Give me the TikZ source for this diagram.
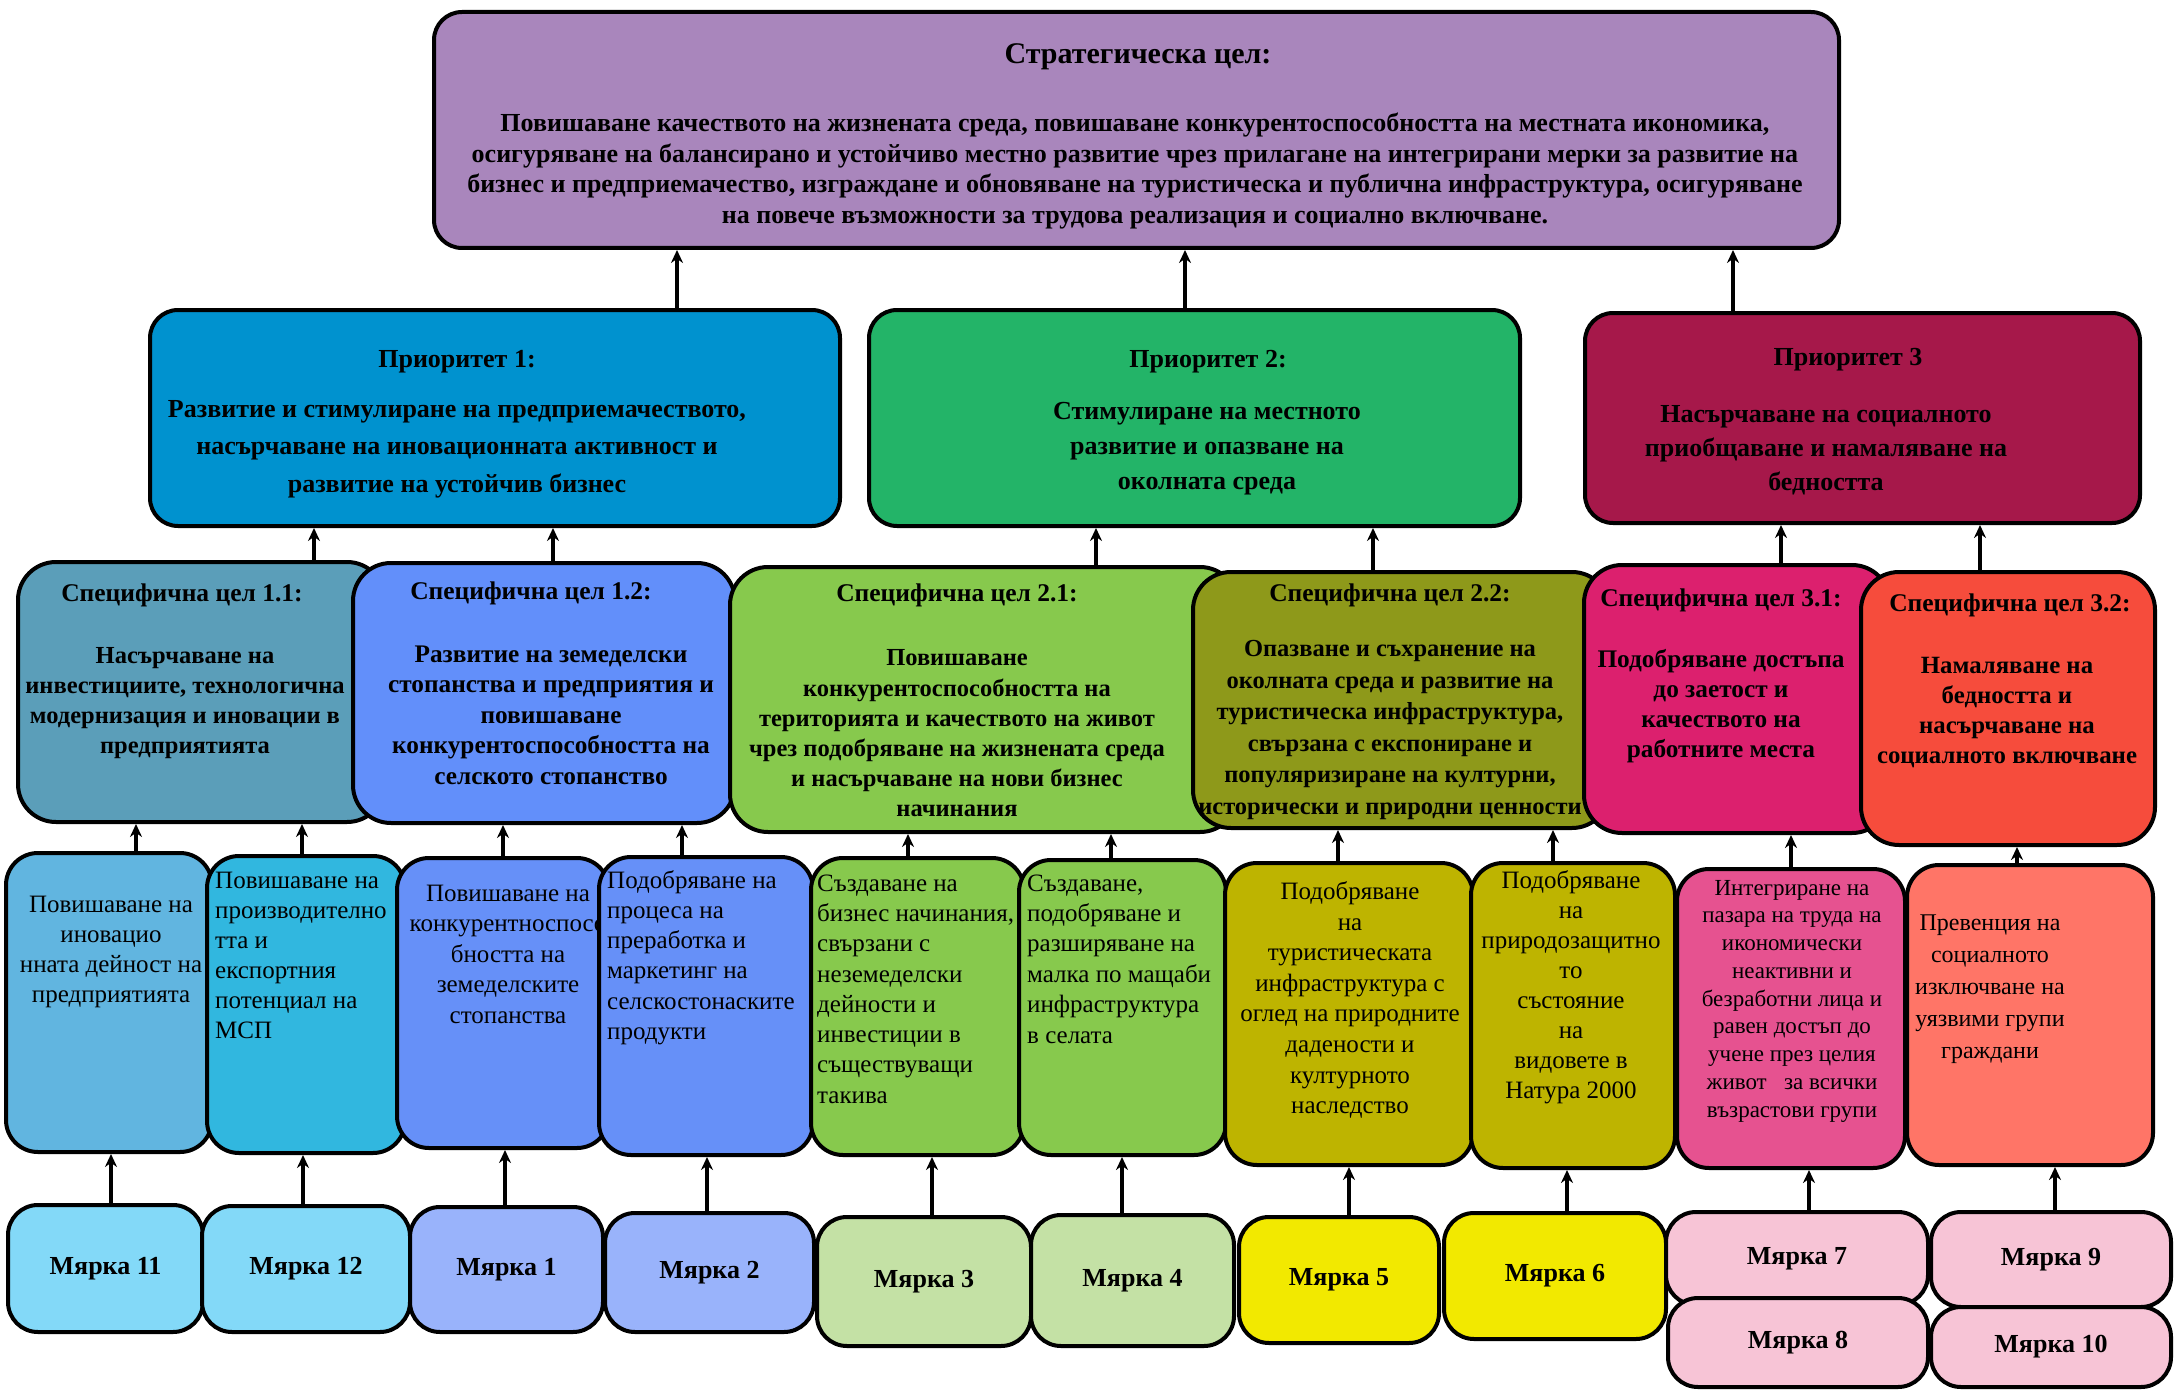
\documentclass[tikz,border=0pt]{standalone}
\usepackage{fontspec}
\setmainfont{Liberation Serif}
\usetikzlibrary{arrows.meta}
\definecolor{cTop}{RGB}{169,134,188}
\definecolor{cPa}{RGB}{0,146,207}
\definecolor{cPb}{RGB}{35,180,104}
\definecolor{cPc}{RGB}{166,24,74}
\definecolor{cSaa}{RGB}{91,158,185}
\definecolor{cSab}{RGB}{98,143,250}
\definecolor{cSba}{RGB}{135,201,77}
\definecolor{cSbb}{RGB}{142,153,26}
\definecolor{cSca}{RGB}{220,32,110}
\definecolor{cScb}{RGB}{246,76,60}
\definecolor{cAa}{RGB}{97,181,224}
\definecolor{cAb}{RGB}{49,183,223}
\definecolor{cAc}{RGB}{102,144,248}
\definecolor{cAd}{RGB}{135,201,77}
\definecolor{cAe}{RGB}{190,180,0}
\definecolor{cAf}{RGB}{230,82,144}
\definecolor{cAg}{RGB}{255,117,103}
\definecolor{cMa}{RGB}{131,217,248}
\definecolor{cMb}{RGB}{153,179,251}
\definecolor{cMc}{RGB}{196,225,165}
\definecolor{cMd}{RGB}{242,233,0}
\definecolor{cMe}{RGB}{247,196,214}
\newcommand\fB[2]{\fontsize{#1}{#2}\selectfont\bfseries}
\newcommand\fR[2]{\fontsize{#1}{#2}\selectfont}
% box: name, fill, radius, x1, y1, x2, y2, text
\newcommand\bx[8]{\node[box,fill=#2,rounded corners=#3pt,minimum width={(#6-#4)*1pt},minimum height={(#7-#5)*1pt}] (#1) at ({(#4+#6)/2},{(#5+#7)/2}) {#8};}
\newcommand\conn[3]{\draw[arr] ([xshift=#3pt]#1.north) -- ([xshift=#3pt]#1.north |- #2.south);}
\begin{document}
\begin{tikzpicture}[x=1pt,y=-1pt,
  box/.style={draw=black,line width=4pt,inner sep=0pt,font=\fB{26}{30}},
  txt/.style={inner sep=0pt,align=center,text=black},
  txl/.style={inner sep=0pt,align=left,anchor=west,text=black},
  arr/.style={line width=4.5pt,-{Stealth[length=13pt,width=12pt]}}]
\useasboundingbox (0,0) rectangle (2174,1391);
\fill[white] (0,0) rectangle (2174,1391);

% Strategic goal
\bx{top}{cTop}{28}{434}{12}{1839}{248}{}
\node[txt,font=\fB{30}{34}] (topT) at (1138,57) {Стратегическа цел:};
\node[txt,font=\fB{26}{30.5}] (topB) at (1135,171) {Повишаване качеството на жизнената среда, повишаване конкурентоспособността на местната икономика,\\ осигуряване на балансирано  и устойчиво местно развитие чрез прилагане на интегрирани мерки за развитие на\\ бизнес и предприемачество, изграждане и обновяване на туристическа и публична инфраструктура, осигуряване\\ на повече възможности за трудова реализация и социално включване.};

% Priorities
\bx{p1}{cPa}{28}{150}{310}{840}{526}{}
\node[txt,font=\fB{26}{30}] (p1T) at (457,362) {Приоритет 1:};
\node[txt,font=\fB{26}{37.5}] (p1B) at (457,449) {Развитие и стимулиране на предприемачеството,\\ насърчаване на иновационната активност и\\ развитие на устойчив бизнес};
\bx{p2}{cPb}{28}{869}{310}{1520}{526}{}
\node[txt,font=\fB{26}{30}] (p2T) at (1208,362) {Приоритет 2:};
\node[txt,font=\fB{26}{35}] (p2B) at (1207,449) {Стимулиране на местното\\ развитие и опазване на\\ околната среда};
\bx{p3}{cPc}{28}{1585}{313}{2140}{523}{}
\node[txt,font=\fB{26}{30}] (p3T) at (1848,360) {Приоритет 3};
\node[txt,font=\fB{26}{34}] (p3B) at (1826,450) {Насърчаване на социалното\\ приобщаване  и намаляване на\\ бедността};

% Specific goals
\bx{s11}{cSaa}{38}{18}{562}{385}{822}{}
\node[txt,font=\fB{25.5}{30}] (s11T) at (182,595) {Специфична цел 1.1:};
\node[txt,font=\fB{24.5}{30}] (s11B) at (185,703) {Насърчаване на\\ инвестициите, технологична\\ модернизация и иновации в\\ предприятията};
\bx{s12}{cSab}{38}{353}{563}{735}{823}{}
\node[txt,font=\fB{25.5}{30}] (s12T) at (531,593) {Специфична цел 1.2:};
\node[txt,font=\fB{25.3}{30.5}] (s12B) at (551,715) {Развитие на земеделски\\ стопанства и предприятия и\\ повишаване\\ конкурентоспособността на\\ селското стопанство};
\bx{s21}{cSba}{38}{730}{567}{1238}{832}{}
\node[txt,font=\fB{25.5}{30}] (s21T) at (957,595) {Специфична цел 2.1:};
\node[txt,font=\fB{24.5}{30.2}] (s21B) at (957,733.5) {Повишаване\\ конкурентоспособността  на\\ територията и качеството на живот\\ чрез подобряване на жизнената среда\\ и насърчаване на нови бизнес\\ начинания};
\bx{s22}{cSbb}{38}{1193}{572}{1610}{828}{}
\node[txt,font=\fB{25.5}{30}] (s22T) at (1390,595) {Специфична цел 2.2:};
\node[txt,font=\fB{24.5}{31.6}] (s22B) at (1390,730) {Опазване и съхранение на\\ околната среда и развитие на\\ туристическа инфраструктура,\\ свързана с експониране и\\ популяризиране на културни,\\ исторически и природни ценности};
\bx{s31}{cSca}{38}{1584}{565}{1890}{833}{}
\node[txt,font=\fB{25.5}{30}] (s31T) at (1721,600) {Специфична цел 3.1:};
\node[txt,font=\fB{25.3}{30}] (s31B) at (1721,706) {Подобряване достъпа\\ до заетост и\\ качеството на\\ работните места};
\bx{s32}{cScb}{38}{1861}{572}{2155}{845}{}
\node[txt,font=\fB{25.5}{30}] (s32T) at (2010,605) {Специфична цел 3.2:};
\node[txt,font=\fB{24.8}{30}] (s32B) at (2007,713) {Намаляване на\\ бедността и\\ насърчаване на\\ социалното включване};

% Activities
\bx{a1}{cAa}{32}{6}{853}{212}{1152}{}
\node[txt,font=\fR{25}{30}] (a1T) at (111,952) {Повишаване на\\ иновацио\\ нната дейност на\\ предприятията};
\bx{a2}{cAb}{32}{207}{856}{405}{1153}{}
\node[txl,font=\fR{25}{30}] (a2T) at (215,955) {Повишаване на\\ производително\\ тта и\\ експортния\\ потенциал на\\ МСП};
\bx{a3}{cAc}{32}{397}{858}{609}{1148}{}
\node[txt,font=\fR{25}{30.5}] (a3T) at (508,954) {Повишаване на\\ конкурентноспосо\\ бността на\\ земеделските\\ стопанства};
\bx{a4}{cAc}{32}{599}{857}{813}{1155}{}
\node[txl,font=\fR{25}{30.2}] (a4T) at (607,957.5) {Подобряване на\\ процеса на\\ преработка и\\ маркетинг на\\ селскостонаските\\ продукти};
\bx{a5}{cAd}{32}{811}{858}{1024}{1155}{}
\node[txl,font=\fR{25}{30.3}] (a5T) at (817,989) {Създаване на\\ бизнес начинания,\\ свързани с\\ неземеделски\\ дейности и\\ инвестиции в\\ съществуващи\\ такива};
\bx{a6}{cAd}{32}{1019}{860}{1226}{1155}{}
\node[txl,font=\fR{25}{30.4}] (a6T) at (1027,959) {Създаване,\\ подобряване и\\ разширяване на\\ малка по мащаби\\ инфраструктура\\ в селата};
\bx{a7}{cAe}{32}{1225}{863}{1473}{1165}{}
\node[txt,font=\fR{25}{30.6}] (a7T) at (1350,1000) {Подобряване\\ на\\ туристическата\\ инфраструктура  с\\ оглед  на природните\\ дадености и\\ културното\\ наследство};
\bx{a8}{cAe}{32}{1471}{863}{1675}{1168}{}
\node[txt,font=\fR{25}{30}] (a8T) at (1571,987) {Подобряване\\ на\\ природозащитно\\ то\\ състояние\\ на\\ видовете в\\ Натура 2000};
\bx{a9}{cAf}{32}{1677}{869}{1905}{1168}{}
\node[txt,font=\fR{23}{27.75}] (a9T) at (1792,1001) {Интегриране на\\ пазара на  труда на\\ икономически\\ неактивни  и\\ безработни лица  и\\ равен достъп до\\ учене през целия\\ живот \ \ за всички\\ възрастови групи};
\bx{a10}{cAg}{32}{1907}{865}{2153}{1165}{}
\node[txt,font=\fR{24}{32}] (a10T) at (1990,989) {Превенция на\\ социалното\\ изключване на\\ уязвими групи\\ граждани};

% Measures
\bx{m11}{cMa}{30}{8}{1205}{203}{1332}{Мярка 11}
\bx{m12}{cMa}{30}{202}{1206}{410}{1332}{Мярка 12}
\bx{m1}{cMb}{30}{410}{1207}{603}{1332}{Мярка 1}
\bx{m2}{cMb}{30}{605}{1213}{814}{1332}{Мярка 2}
\bx{m3}{cMc}{30}{817}{1217}{1031}{1346}{Мярка 3}
\bx{m4}{cMc}{30}{1031}{1215}{1234}{1346}{Мярка 4}
\bx{m5}{cMd}{30}{1239}{1217}{1439}{1343}{Мярка 5}
\bx{m6}{cMd}{30}{1444}{1213}{1666}{1339}{Мярка 6}
\bx{m7}{cMe}{30}{1666}{1212}{1928}{1305}{Мярка 7}
\bx{m8}{cMe}{30}{1668}{1298}{1928}{1387}{Мярка 8}
\bx{m9}{cMe}{30}{1931}{1212}{2171}{1307}{Мярка 9}
\bx{m10}{cMe}{30}{1931}{1307}{2171}{1387}{Мярка 10}

% Connectors
\conn{p1}{top}{182}
\conn{p2}{top}{-9.5}
\conn{p3}{top}{-129.5}
\conn{s11}{p1}{112.5}
\conn{s12}{p1}{9}
\conn{s21}{p2}{112}
\conn{s22}{p2}{-28.5}
\conn{s31}{p3}{44}
\conn{s32}{p3}{-28}
\conn{a1}{s11}{27}
\conn{a2}{s11}{-4}
\conn{a3}{s12}{0}
\conn{a4}{s12}{-24}
\conn{a5}{s21}{-9.5}
\conn{a6}{s21}{-11.5}
\conn{a7}{s22}{-11}
\conn{a8}{s22}{-20}
\conn{a9}{s31}{0}
\conn{a10}{s32}{-13}
\conn{m11}{a1}{5.5}
\conn{m12}{a2}{-3}
\conn{m1}{a3}{-1.5}
\conn{m2}{a4}{-2.5}
\conn{m3}{a5}{8}
\conn{m4}{a6}{-10.5}
\conn{m5}{a7}{10}
\conn{m6}{a8}{12}
\conn{m7}{a9}{12}
\conn{m9}{a10}{4}
\end{tikzpicture}
\end{document}
